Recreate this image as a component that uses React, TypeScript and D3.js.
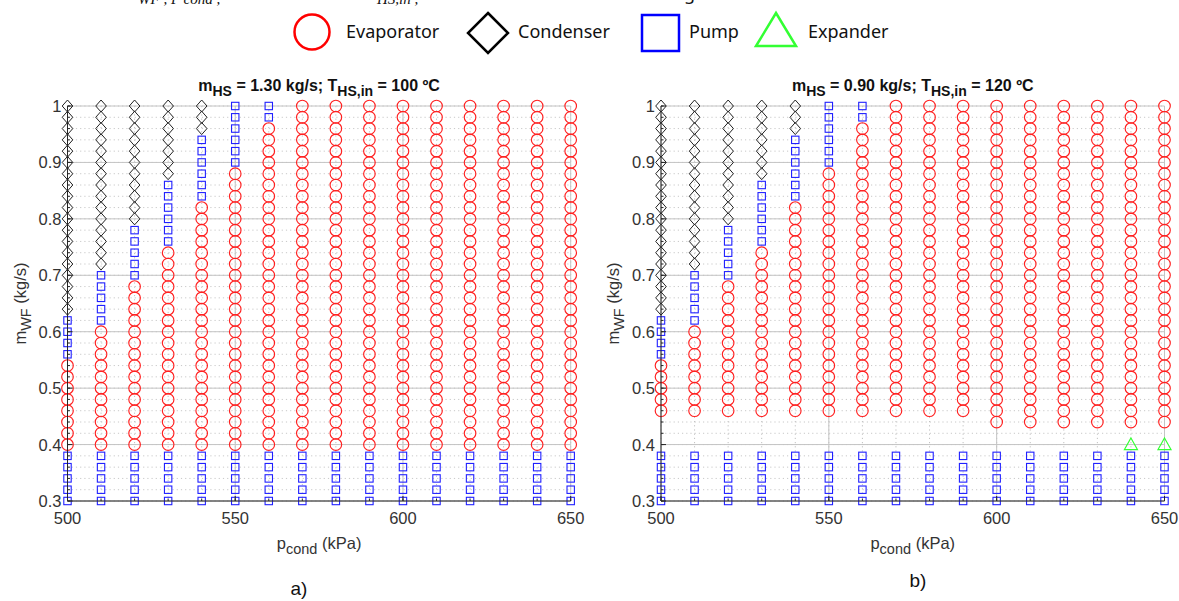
import React from 'react';
import * as d3 from 'd3';

// ---------- data ----------
const pressures = [500, 510, 520, 530, 540, 550, 560, 570, 580, 590, 600, 610, 620, 630, 640, 650];
const massFlows = [0.30, 0.32, 0.34, 0.36, 0.38, 0.40, 0.42, 0.44, 0.46, 0.48, 0.50, 0.52, 0.54, 0.56, 0.58,
  0.60, 0.62, 0.64, 0.66, 0.68, 0.70, 0.72, 0.74, 0.76, 0.78, 0.80, 0.82, 0.84, 0.86, 0.88, 0.90, 0.92,
  0.94, 0.96, 0.98, 1.00];
const xTicks = [500, 550, 600, 650];
const xTickLabels = ['500', '550', '600', '650'];
const yTicks = [0.3, 0.4, 0.5, 0.6, 0.7, 0.8, 0.9, 1.0];
const yTickLabels = ['0.3', '0.4', '0.5', '0.6', '0.7', '0.8', '0.9', '1'];

// Panel a) : m_HS = 1.30 kg/s ; T_HS,in = 100 ºC
// lowest m_WF (per p_cond column) of each violation band, null = band absent
const condenserFromA = [0.64, 0.72, 0.80, 0.88, 0.96, null, null, null, null, null, null, null, null, null, null, null];
const pumpHighFromA = [0.56, 0.62, 0.70, 0.76, 0.84, 0.90, 0.98, null, null, null, null, null, null, null, null, null];
const evaporatorFromA = [0.40, 0.40, 0.40, 0.40, 0.40, 0.40, 0.40, 0.40, 0.40, 0.40, 0.40, 0.40, 0.40, 0.40, 0.40, 0.40];
const pumpLowToA = [0.38, 0.38, 0.38, 0.38, 0.38, 0.38, 0.38, 0.38, 0.38, 0.38, 0.38, 0.38, 0.38, 0.38, 0.38, 0.38];
const expanderAtA = [null, null, null, null, null, null, null, null, null, null, null, null, null, null, null, null];

// Panel b) : m_HS = 0.90 kg/s ; T_HS,in = 120 ºC
const condenserFromB = [0.64, 0.72, 0.80, 0.88, 0.96, null, null, null, null, null, null, null, null, null, null, null];
const pumpHighFromB = [0.56, 0.62, 0.70, 0.76, 0.84, 0.90, 0.98, null, null, null, null, null, null, null, null, null];
const evaporatorFromB = [0.46, 0.46, 0.46, 0.46, 0.46, 0.46, 0.46, 0.46, 0.46, 0.46, 0.44, 0.44, 0.44, 0.44, 0.44, 0.44];
const pumpLowToB = [0.38, 0.38, 0.38, 0.38, 0.38, 0.38, 0.38, 0.38, 0.38, 0.38, 0.38, 0.38, 0.38, 0.38, 0.38, 0.38];
const expanderAtB = [null, null, null, null, null, null, null, null, null, null, null, null, null, null, 0.40, 0.40];

type Kind = 'E' | 'C' | 'P' | 'X' | null;

const r2 = (v: number) => Math.round(v * 100);

function classify(i: number, m: number, cond: (number | null)[], pumpH: (number | null)[], evap: number[],
  pumpL: number[], exp: (number | null)[]): Kind {
  const mm = r2(m);
  if (cond[i] !== null && mm >= r2(cond[i] as number)) return 'C';
  if (pumpH[i] !== null && mm >= r2(pumpH[i] as number)) return 'P';
  if (mm >= r2(evap[i])) return 'E';
  if (mm <= r2(pumpL[i])) return 'P';
  if (exp[i] !== null && mm === r2(exp[i] as number)) return 'X';
  return null;
}

const FONT = '"Liberation Sans", Arial, Helvetica, sans-serif';
const TXT = '#333333';

interface PanelProps {
  x0: number; x1: number; y0: number; y1: number;
  mhs: string; ths: string; label: string; labelX: number; labelY: number;
  cond: (number | null)[]; pumpH: (number | null)[]; evap: number[]; pumpL: number[]; exp: (number | null)[];
}

function Panel(p: PanelProps) {
  const x = d3.scaleLinear().domain([500, 650]).range([p.x0, p.x1]);
  const y = d3.scaleLinear().domain([0.3, 1.0]).range([p.y1, p.y0]);
  const cx = (p.x0 + p.x1) / 2;

  const marks: React.ReactNode[] = [];
  pressures.forEach((pc, i) => {
    massFlows.forEach((m, j) => {
      const k = classify(i, m, p.cond, p.pumpH, p.evap, p.pumpL, p.exp);
      const X = x(pc), Y = y(m);
      const key = `${i}-${j}`;
      if (k === 'E') marks.push(<circle key={key} cx={X} cy={Y} r={5.8} fill="none" stroke="#ff2020" strokeWidth={1.15} />);
      else if (k === 'P') marks.push(<rect key={key} x={X - 3.7} y={Y - 3.7} width={7.4} height={7.4} fill="none" stroke="#2020ff" strokeWidth={1.1} />);
      else if (k === 'C') marks.push(<path key={key} d={`M${X},${Y - 6}L${X + 5.3},${Y}L${X},${Y + 6}L${X - 5.3},${Y}Z`} fill="none" stroke="#222" strokeWidth={1} />);
      else if (k === 'X') marks.push(<path key={key} d={`M${X},${Y - 6.5}L${X + 6.5},${Y + 5}L${X - 6.5},${Y + 5}Z`} fill="none" stroke="#33ff33" strokeWidth={1.2} />);
    });
  });

  return (
    <g>
      {/* minor grid */}
      {massFlows.map((m, j) => (
        <line key={'hm' + j} x1={p.x0} x2={p.x1} y1={y(m)} y2={y(m)} stroke="#c8c8c8" strokeWidth={1} strokeDasharray="1.2,3" />
      ))}
      {pressures.map((pc, j) => (
        <line key={'vm' + j} x1={x(pc)} x2={x(pc)} y1={p.y0} y2={p.y1} stroke="#c0c0c0" strokeWidth={1} strokeDasharray="1.2,3" />
      ))}
      {/* major grid */}
      {yTicks.map((t, j) => (
        <line key={'hM' + j} x1={p.x0} x2={p.x1} y1={y(t)} y2={y(t)} stroke="#c4c4c4" strokeWidth={1} />
      ))}
      {xTicks.map((t, j) => (
        <line key={'vM' + j} x1={x(t)} x2={x(t)} y1={p.y0} y2={p.y1} stroke="#c4c4c4" strokeWidth={1} />
      ))}
      {marks}
      {/* axes */}
      <line x1={p.x0} x2={p.x0} y1={p.y0} y2={p.y1} stroke="#262626" strokeWidth={1} />
      <line x1={p.x0} x2={p.x1} y1={p.y1} y2={p.y1} stroke="#262626" strokeWidth={1} />
      {massFlows.map((m, j) => (
        <line key={'ty' + j} x1={p.x0} x2={p.x0 + 2.5} y1={y(m)} y2={y(m)} stroke="#262626" strokeWidth={1} />
      ))}
      {yTicks.map((t, j) => (
        <line key={'tyM' + j} x1={p.x0} x2={p.x0 + 5} y1={y(t)} y2={y(t)} stroke="#262626" strokeWidth={1} />
      ))}
      {pressures.map((pc, j) => (
        <line key={'tx' + j} x1={x(pc)} x2={x(pc)} y1={p.y1} y2={p.y1 - 2.5} stroke="#262626" strokeWidth={1} />
      ))}
      {xTicks.map((t, j) => (
        <line key={'txM' + j} x1={x(t)} x2={x(t)} y1={p.y1} y2={p.y1 - 5} stroke="#262626" strokeWidth={1} />
      ))}
      {/* tick labels */}
      {yTicks.map((t, j) => (
        <text key={'yl' + j} x={p.x0 - 6} y={y(t) + 6} textAnchor="end" fontFamily={FONT} fontSize={16.5} fill={TXT}>{yTickLabels[j]}</text>
      ))}
      {xTicks.map((t, j) => (
        <text key={'xl' + j} x={x(t)} y={p.y1 + 23} textAnchor="middle" fontFamily={FONT} fontSize={16.5} fill={TXT}>{xTickLabels[j]}</text>
      ))}
      {/* title */}
      <text x={cx} y={p.y0 - 15} textAnchor="middle" fontFamily={FONT} fontSize={16} fontWeight="bold" fill="#111">
        <tspan>m</tspan><tspan dy={5} fontSize={14}>HS</tspan><tspan dy={-5}>{` = ${p.mhs} kg/s; T`}</tspan>
        <tspan dy={5} fontSize={14}>HS,in</tspan><tspan dy={-5}>{` = ${p.ths} ºC`}</tspan>
      </text>
      {/* x label */}
      <text x={cx} y={p.y1 + 48} textAnchor="middle" fontFamily={FONT} fontSize={16.5} fill={TXT}>
        <tspan>p</tspan><tspan dy={5} fontSize={14.5}>cond</tspan><tspan dy={-5}> (kPa)</tspan>
      </text>
      {/* y label */}
      <text transform={`translate(${p.x0 - 42},${(p.y0 + p.y1) / 2}) rotate(-90)`} textAnchor="middle" fontFamily={FONT} fontSize={16.5} fill={TXT}>
        <tspan>m</tspan><tspan dy={5} fontSize={14.5}>WF</tspan><tspan dy={-5}> (kg/s)</tspan>
      </text>
      <text x={p.labelX} y={p.labelY} textAnchor="middle" fontFamily={FONT} fontSize={19} fill="#111">{p.label}</text>
    </g>
  );
}

const legendItems = ['Evaporator', 'Condenser', 'Pump', 'Expander'];

export default function App() {
  const LF = '"Noto Sans", "Open Sans", sans-serif';
  return (
    <svg width={1179} height={601} viewBox="0 0 1179 601" style={{ position: 'absolute', left: 0, top: 0, background: '#fff' }}>
      <rect x={0} y={0} width={1179} height={601} fill="#fff" />
      {/* cropped caption line at the very top (cut by the image edge, as in the source) */}
      <text x={138} y={4} fontFamily='"Liberation Serif", serif' fontStyle="italic" fontSize={15} fill="#111">WF , P cond ,</text>
      <text x={377} y={4} fontFamily='"Liberation Serif", serif' fontStyle="italic" fontSize={15} fill="#111">HS,in ,</text>
      <text x={684} y={0} fontFamily={LF} fontSize={18} fill="#111">g</text>

      {/* legend */}
      <circle cx={312} cy={32} r={17.5} fill="none" stroke="#ff0000" strokeWidth={2.5} />
      <text x={346} y={38} fontFamily={LF} fontSize={18} fill="#111">{legendItems[0]}</text>
      <path d="M488,13L508,33L488,53L468,33Z" fill="none" stroke="#000" strokeWidth={2.5} />
      <text x={518} y={38} fontFamily={LF} fontSize={18} fill="#111">{legendItems[1]}</text>
      <rect x={642} y={15} width={37} height={36} fill="none" stroke="#0000ff" strokeWidth={2.5} />
      <text x={689} y={38} fontFamily={LF} fontSize={18} fill="#111">{legendItems[2]}</text>
      <path d="M776,13L796,46L756,46Z" fill="none" stroke="#33ff33" strokeWidth={2.5} />
      <text x={808} y={38} fontFamily={LF} fontSize={18} fill="#111">{legendItems[3]}</text>

      <Panel x0={67.5} x1={570.7} y0={106} y1={501} mhs="1.30" ths="100" label="a)" labelX={299} labelY={595}
        cond={condenserFromA} pumpH={pumpHighFromA} evap={evaporatorFromA} pumpL={pumpLowToA} exp={expanderAtA} />
      <Panel x0={661} x1={1164.5} y0={106} y1={501} mhs="0.90" ths="120" label="b)" labelX={918} labelY={587}
        cond={condenserFromB} pumpH={pumpHighFromB} evap={evaporatorFromB} pumpL={pumpLowToB} exp={expanderAtB} />
    </svg>
  );
}
